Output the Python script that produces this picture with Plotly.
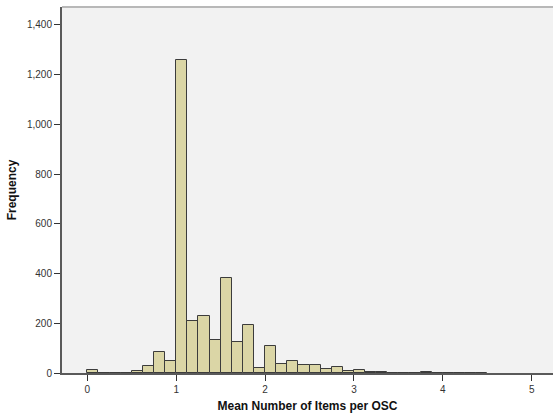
import plotly.graph_objects as go

# Histogram data: left edge of each bin (width 0.125) and its frequency
bin_width = 0.125
bin_start = [0.0, 0.125, 0.25, 0.375, 0.5, 0.625, 0.75, 0.875,
             1.0, 1.125, 1.25, 1.375, 1.5, 1.625, 1.75, 1.875,
             2.0, 2.125, 2.25, 2.375, 2.5, 2.625, 2.75, 2.875,
             3.0, 3.125, 3.25, 3.375, 3.5, 3.625, 3.75, 3.875,
             4.0, 4.125, 4.25, 4.375]
frequency = [12, 1, 1, 1, 8, 30, 85, 50,
             1260, 210, 231, 134, 384, 123, 193, 20,
             110, 37, 48, 31, 34, 16, 24, 8,
             12, 4, 4, 2, 2, 2, 6, 1,
             1, 1, 1, 1]

x_tickvals = [0, 1, 2, 3, 4, 5]
y_tickvals = [0, 200, 400, 600, 800, 1000, 1200, 1400]

fig = go.Figure()
fig.add_trace(go.Bar(
    x=bin_start, y=frequency, offset=0, width=bin_width,
    marker=dict(color="#dbd6a6", line=dict(color="#3c3c3c", width=1)),
    hoverinfo="x+y",
))

fig.update_layout(
    width=553, height=416,
    margin=dict(l=62, r=0, t=7, b=43),
    paper_bgcolor="white",
    plot_bgcolor="#f2f2f2",
    showlegend=False,
    bargap=0,
    font=dict(family="Arial, Liberation Sans, sans-serif", size=10, color="#333333"),
    xaxis=dict(
        range=[-0.285, 5.24],
        tickvals=x_tickvals,
        ticks="outside", ticklen=6, tickcolor="#333333", tickwidth=1,
        showgrid=False, zeroline=False,
        showline=True, linecolor="#5a5a5a", linewidth=1.5,
        tickfont=dict(size=10, color="#333333"),
        title=dict(text="<b>Mean Number of Items per OSC</b>",
                   font=dict(size=12, color="#111111"), standoff=8),
    ),
    yaxis=dict(
        range=[0, 1472],
        tickvals=y_tickvals,
        tickformat=",",
        ticks="outside", ticklen=6, tickcolor="#333333", tickwidth=1,
        showgrid=False, zeroline=False,
        showline=True, linecolor="#5a5a5a", linewidth=2,
        tickfont=dict(size=10, color="#333333"),
        title=dict(text="<b>Frequency</b>",
                   font=dict(size=12, color="#111111"), standoff=8),
    ),
    shapes=[dict(type="line", xref="paper", yref="paper",
                 x0=0, x1=1, y0=1, y1=1,
                 line=dict(color="#b8b8b8", width=2))],
)

fig.write_html(
    "out.html",
    config={"displayModeBar": False},
    post_script="document.body.style.margin='0';document.body.style.overflow='hidden';",
)
